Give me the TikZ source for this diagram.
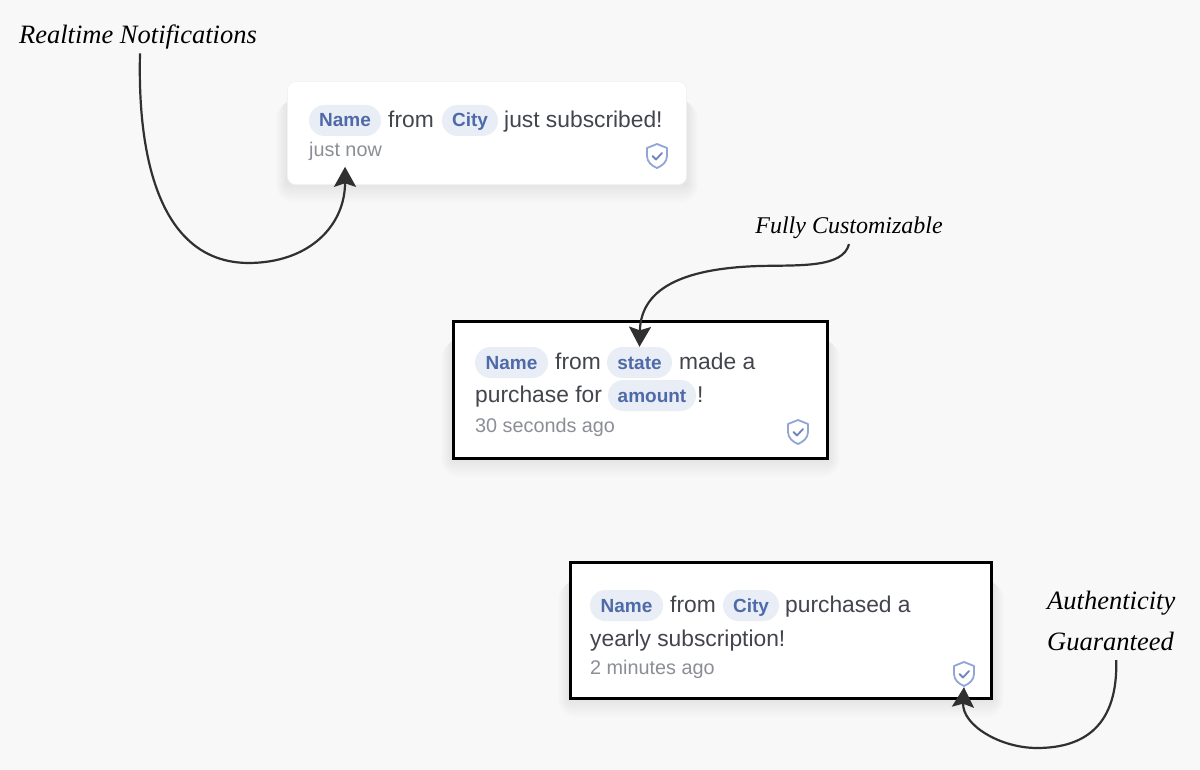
\documentclass[tikz,border=0pt]{standalone}
\usepackage{fontspec}
\setmainfont{Liberation Sans}
\newfontfamily\handfont{Liberation Serif}
\usetikzlibrary{arrows.meta,backgrounds}
\definecolor{pagebg}{HTML}{F8F8F8}
\definecolor{pillbg}{HTML}{E9EDF5}
\definecolor{pilltext}{HTML}{4F6AA8}
\definecolor{msgtext}{HTML}{43454D}
\definecolor{stamptext}{HTML}{8B8E95}
\definecolor{shieldline}{HTML}{92A5D8}
\definecolor{shieldtick}{HTML}{6E84BE}
\definecolor{inkline}{HTML}{303030}
\tikzset{
  x=1pt,y=-1pt,
  cardsoft/.style={fill=white,draw=black!5,line width=0.8,rounded corners=8,inner sep=0},
  cardhard/.style={fill=white,draw=black,line width=2.4,inner sep=0},
  pill/.style={fill=pillbg,rounded corners=15.5,inner sep=0,text height=22,text depth=9,anchor=base,
    text=pilltext,font=\fontsize{19}{22}\selectfont\bfseries},
  msg/.style={anchor=base west,inner sep=0,text=msgtext,font=\fontsize{22.8}{26}\selectfont},
  stamp/.style={anchor=base west,inner sep=0,text=stamptext,font=\fontsize{19.8}{22}\selectfont},
  note/.style={inner sep=0,text=black,font=\handfont\itshape\fontsize{26.5}{41}\selectfont},
  shieldbox/.style={inner sep=0,minimum width=22,minimum height=26},
  inkarrow/.style={draw=inkline,line width=2.2,-{Stealth[length=20,width=22,inset=3.5]}},
  shieldmark/.pic={
    \draw[shieldline,line width=1.8,line join=round] (0,-12) -- (-10,-8) -- (-10,0)
      .. controls (-10,6) and (-5,10) .. (0,12) .. controls (5,10) and (10,6) .. (10,0) -- (10,-8) -- cycle;
    \draw[shieldtick,line width=1.8,line cap=round,line join=round] (-4.5,0) -- (-1,3.5) -- (5,-3);
  }
}
\newcommand{\softshadow}[1]{
  \foreach \r in {1,3,...,19} {
    \fill[black,opacity=0.006,rounded corners=\r pt] ([xshift=-0.6*\r pt,yshift=-\r pt+1pt]#1.south west) rectangle ([xshift=0.6*\r pt,yshift=-20pt]#1.north east);
  }
}
\begin{document}
\begin{tikzpicture}
  \useasboundingbox (0,0) rectangle (1200,770);

  % first card
  \node[cardsoft,minimum width=399,minimum height=103] (cardone) at (487,133) {};
  \node[pill,minimum width=72] (nameone) at (345,127) {Name};
  \node[msg] (fromone) at (388,127.5) {from};
  \node[pill,minimum width=56] (cityone) at (470,127) {City};
  \node[msg] (subone) at (504,127.5) {just subscribed!};
  \node[stamp] (timeone) at (309,156.5) {just now};
  \node[shieldbox] (shieldone) at (657,156) {};
  \pic at (shieldone) {shieldmark};

  % second card
  \node[cardhard,minimum width=374,minimum height=137] (cardtwo) at (640.5,390) {};
  \node[pill,minimum width=73] (nametwo) at (511.5,369) {Name};
  \node[msg] (fromtwo) at (555,369.5) {from};
  \node[pill,minimum width=65] (statetwo) at (639.5,369) {state};
  \node[msg] (madetwo) at (679,369.5) {made a};
  \node[msg] (buytwo) at (475,402.5) {purchase for};
  \node[pill,minimum width=88] (amounttwo) at (652,402) {amount};
  \node[msg] (marktwo) at (697,402.5) {!};
  \node[stamp] (timetwo) at (475,432) {30 seconds ago};
  \node[shieldbox] (shieldtwo) at (798,432) {};
  \pic at (shieldtwo) {shieldmark};

  % third card
  \node[cardhard,minimum width=421,minimum height=136] (cardthree) at (781,630.5) {};
  \node[pill,minimum width=73] (namethree) at (626.5,612) {Name};
  \node[msg] (fromthree) at (670,612.5) {from};
  \node[pill,minimum width=56] (citythree) at (751,612) {City};
  \node[msg] (buythree) at (785,612.5) {purchased a};
  \node[msg] (yearthree) at (590,646.5) {yearly subscription!};
  \node[stamp] (timethree) at (590,674) {2 minutes ago};
  \node[shieldbox] (shieldthree) at (964,674) {};
  \pic at (shieldthree) {shieldmark};

  \begin{pgfonlayer}{background}
    \fill[pagebg] (0,0) rectangle (1200,770);
    \softshadow{cardone}
    \softshadow{cardtwo}
    \softshadow{cardthree}
  \end{pgfonlayer}

  % handwritten notes
  \node[note] (realtime) at (138,37) {Realtime Notifications};
  \node[note,font=\handfont\itshape\fontsize{24}{41}\selectfont] (custom) at (849,228) {Fully Customizable};
  \node[note,align=left,anchor=west] (authentic) at (1047,621) {Authenticity\\Guaranteed};
  \coordinate (tipone) at ([xshift=-37pt,yshift=-6pt]timeone.south east);

  \draw[inkarrow] ([xshift=2pt,yshift=-4pt]realtime.south) .. controls (139,100) and (138,262) .. (248,263)
    .. controls (310,263) and (345,225) .. (tipone);
  \draw[inkarrow] ([yshift=-5pt]custom.south) .. controls (843,268) and (800,265) .. (760,266)
    .. controls (690,268) and (641,285) .. (statetwo.north);
  \draw[inkarrow] ([xshift=5pt,yshift=-9pt]authentic.south) .. controls (1118,725) and (1085,748) .. (1037,748)
    .. controls (1000,748) and (962,725) .. (shieldthree.south);
\end{tikzpicture}
\end{document}
